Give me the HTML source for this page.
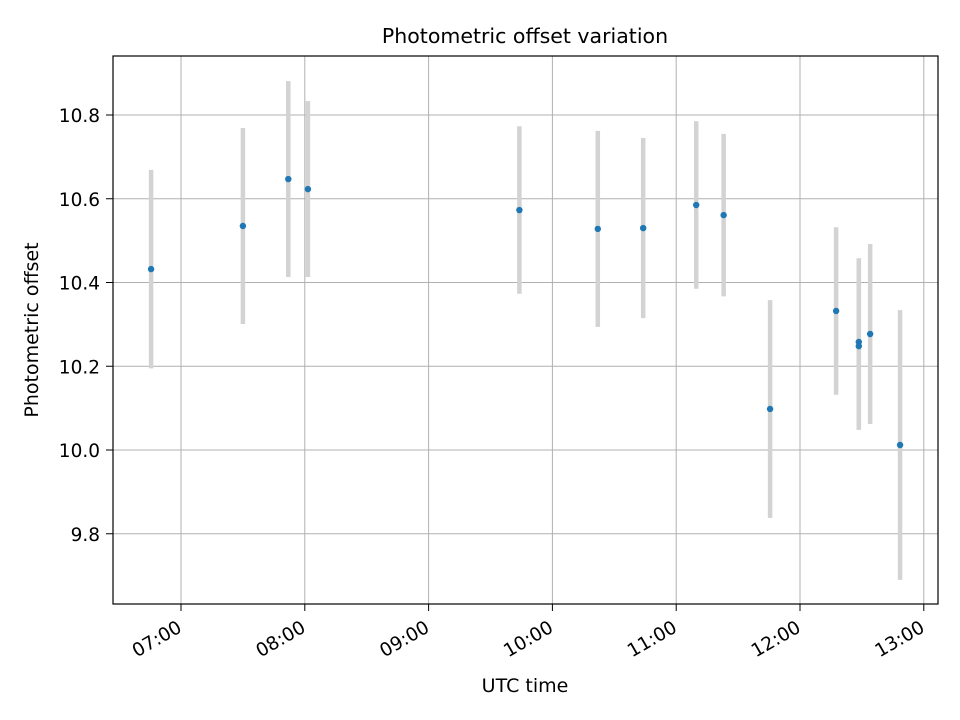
<!DOCTYPE html>
<html><head><meta charset="utf-8"><style>
html,body{margin:0;padding:0;background:#fff}
svg{display:block;font-family:"DejaVu Sans","Liberation Sans",sans-serif}
</style></head><body>
<svg id="chart" width="960" height="720" viewBox="0 0 960 720">
<rect x="0" y="0" width="960" height="720" fill="#fff"/>
<g id="grid"></g>
<g id="bars"></g>
<g id="pts"></g>
<rect x="113" y="56" width="825" height="548" fill="none" stroke="#000" stroke-width="1.2"/>
<g id="ticks"></g>
<text x="525" y="43" text-anchor="middle" font-size="20.5">Photometric offset variation</text>
<text x="525" y="692" text-anchor="middle" font-size="19">UTC time</text>
<text transform="translate(38,330) rotate(-90)" text-anchor="middle" font-size="19">Photometric offset</text>
</svg>
<script>
const times = ["06:45.5","07:30","07:52","08:01.5","09:44","10:22","10:44","11:09.7","11:23","11:45.5","12:17.5","12:28.5","12:28.5","12:34","12:48.5"];
const offsets = [10.432,10.535,10.647,10.623,10.573,10.528,10.530,10.585,10.561,10.098,10.332,10.258,10.248,10.277,10.012];
const errors = [0.237,0.234,0.234,0.21,0.2,0.234,0.215,0.2,0.194,0.26,0.2,0.2,0.2,0.215,0.322];
const yTicks = [9.8,10.0,10.2,10.4,10.6,10.8];
const xTickLabels = ["07:00","08:00","09:00","10:00","11:00","12:00","13:00"];
const NS="http://www.w3.org/2000/svg";
function toH(s){const [h,m]=s.split(":");return +h+parseFloat(m)/60;}
function xs(h){return 181+(h-7)*123.8;}
function ys(v){return 450-(v-10)*418.75;}
function mk(t,a,p){const e=document.createElementNS(NS,t);for(const k in a)e.setAttribute(k,a[k]);p.appendChild(e);return e;}
const grid=document.getElementById('grid'),ticks=document.getElementById('ticks'),bars=document.getElementById('bars'),pts=document.getElementById('pts');
yTicks.forEach(v=>{const y=ys(v);
 const g=mk('line',{x1:113,x2:938,y1:y,y2:y,stroke:'#b0b0b0','stroke-width':1},grid);
 
 
 const t=mk('line',{x1:106,x2:113,y1:y,y2:y,stroke:'#000','stroke-width':1},ticks);
 
 
 const l=mk('text',{x:100,y:y+7,'text-anchor':'end','font-size':18.5},ticks);l.textContent=v.toFixed(1);
 
 
});
xTickLabels.forEach(s=>{const x=xs(toH(s));
 const g=mk('line',{x1:x,x2:x,y1:56,y2:604,stroke:'#b0b0b0','stroke-width':1},grid);
 
 
 const t=mk('line',{x1:x,x2:x,y1:604,y2:611,stroke:'#000','stroke-width':1},ticks);
 
 
 const l=mk('text',{transform:`translate(${x+2},${631}) rotate(-30)`,'text-anchor':'end','font-size':18.5},ticks);l.textContent=s;
 
 
});
times.forEach((s,i)=>{const x=xs(toH(s));
 const b=mk('line',{x1:x,x2:x,y1:ys(offsets[i]+errors[i]),y2:ys(offsets[i]-errors[i]),stroke:'#d3d3d3','stroke-width':4.5},bars);
 
 
 const c=mk('circle',{cx:x,cy:ys(offsets[i]),r:3.2,fill:'#1f77b4'},pts);
 
 
});
</script>
</body></html>
